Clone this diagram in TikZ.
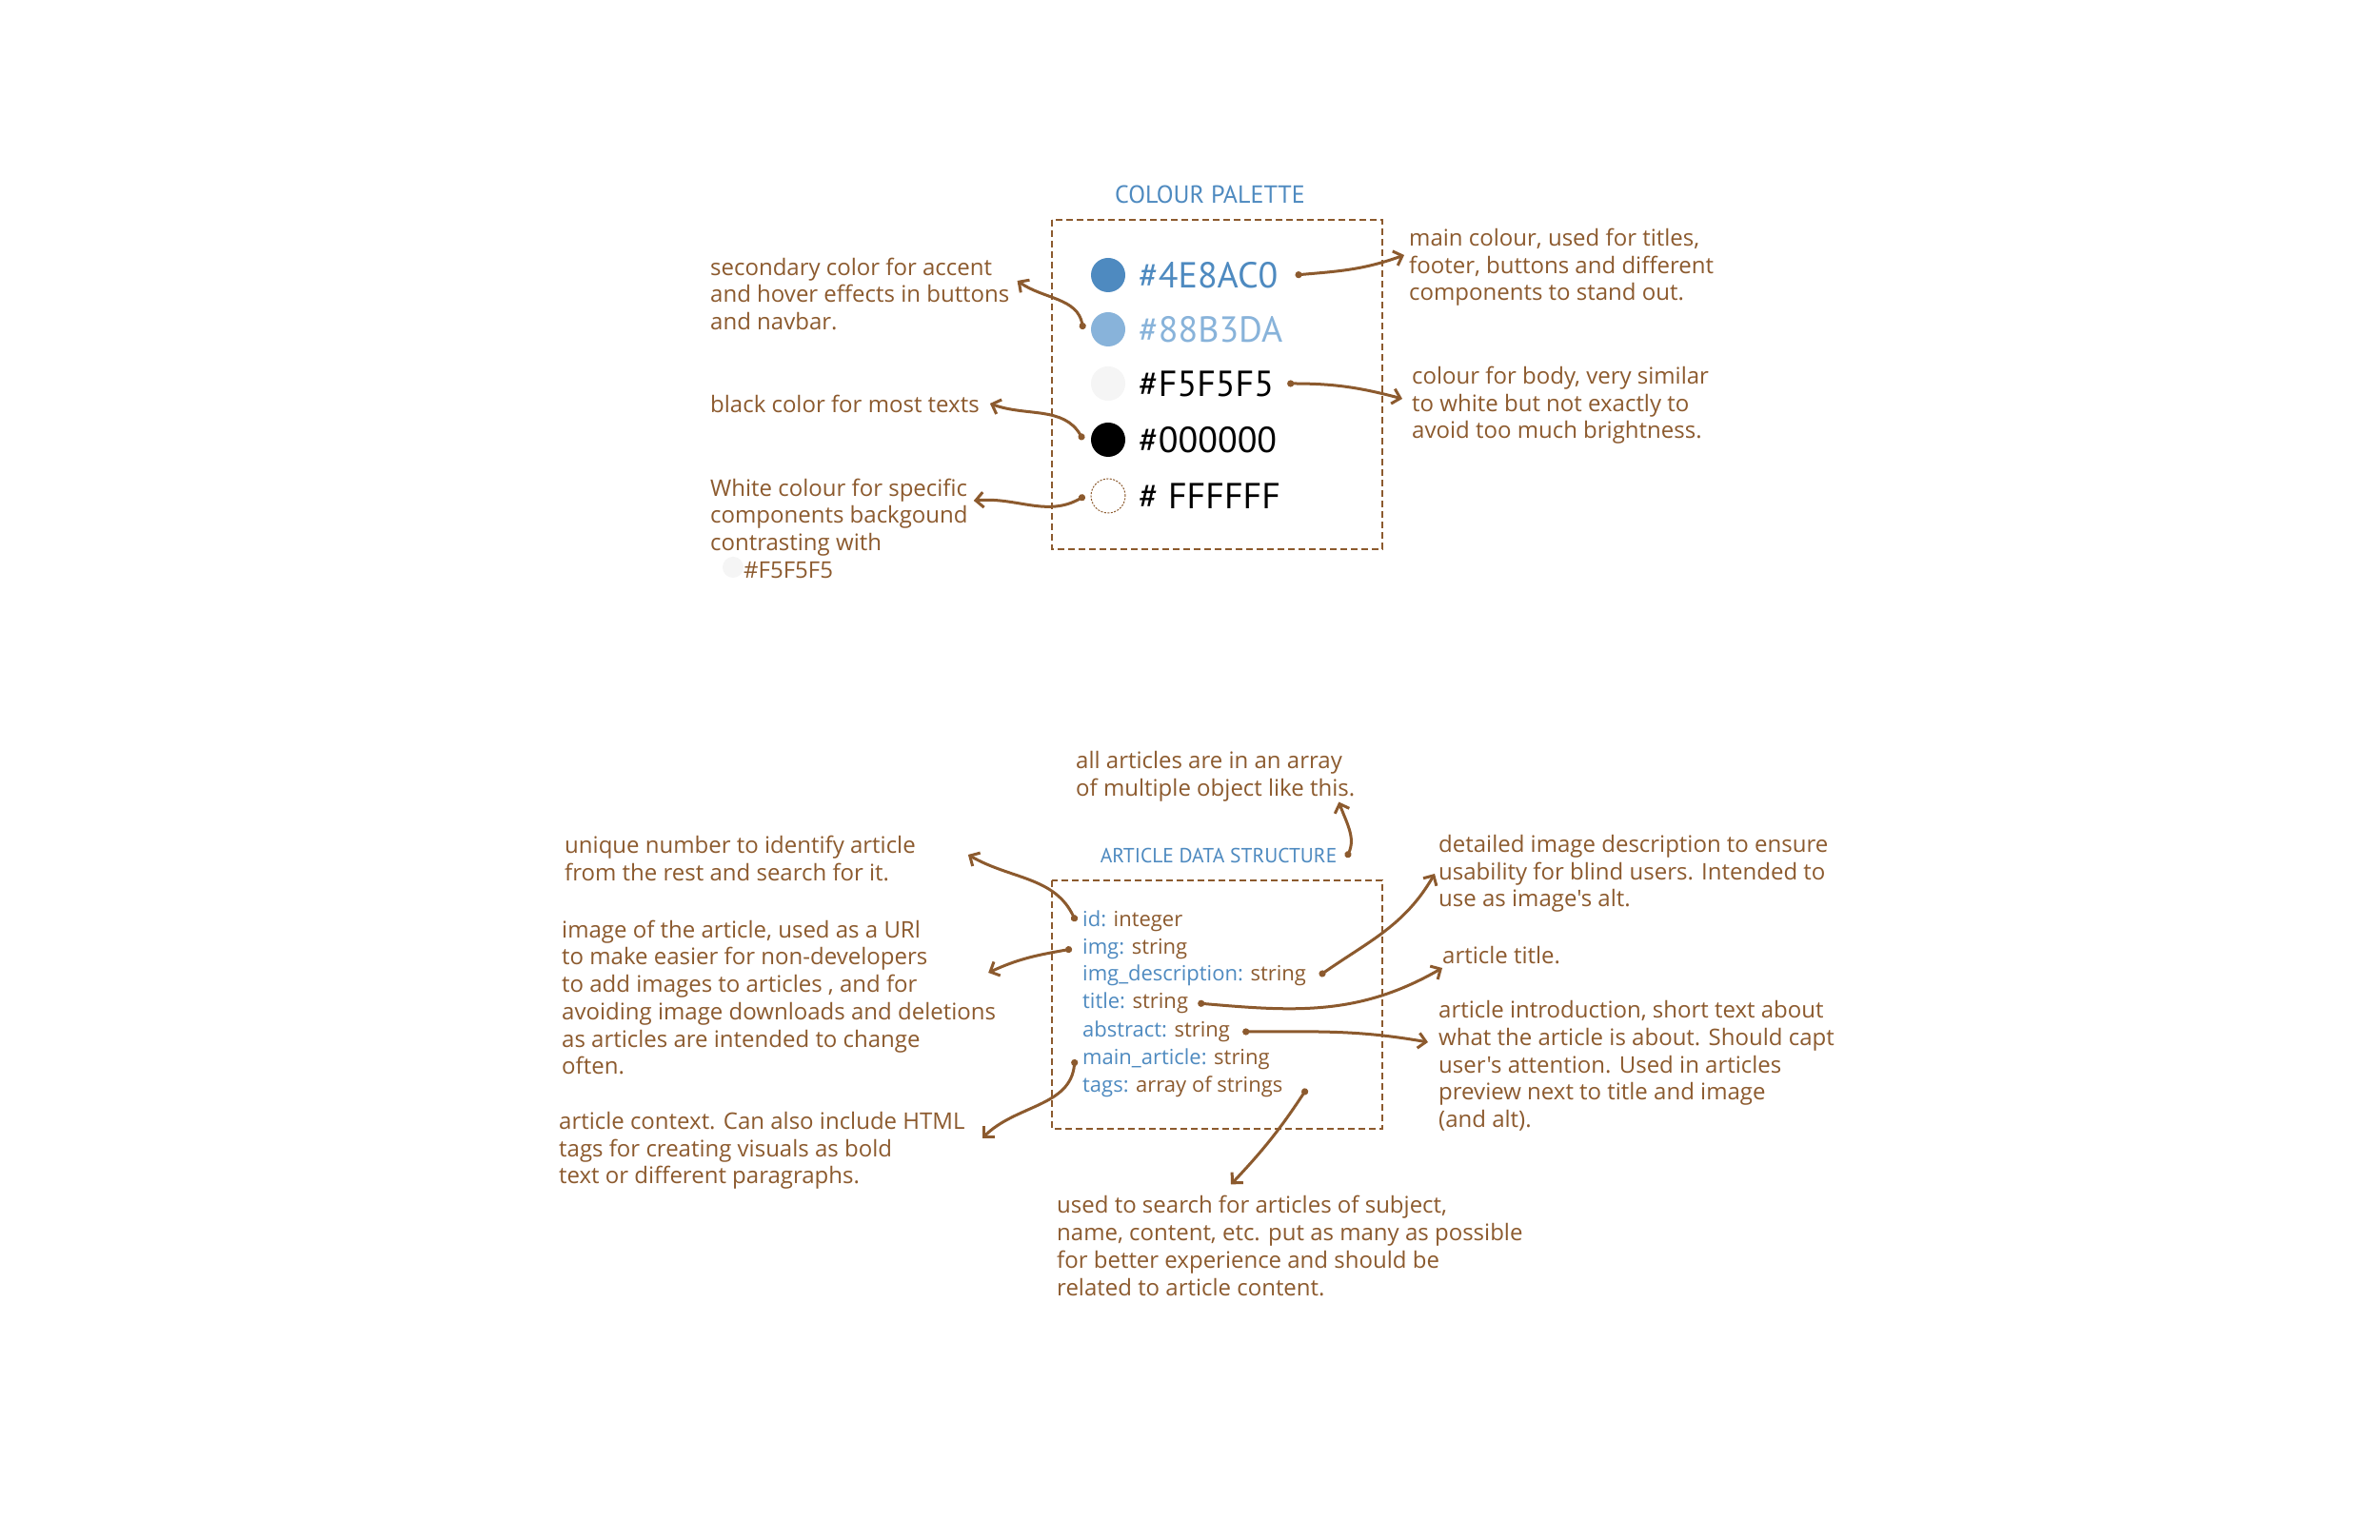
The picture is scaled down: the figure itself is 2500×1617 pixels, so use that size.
\documentclass[tikz,border=0pt]{standalone}
\usepackage{fontspec}
\setmainfont{PT Sans}
\newfontfamily\notefont{Open Sans}
\usetikzlibrary{arrows.meta}
\definecolor{notebrown}{HTML}{8C5A2E}
\definecolor{mainblue}{HTML}{4E8AC0}
\definecolor{lightblue}{HTML}{88B3DA}
\definecolor{offwhite}{HTML}{F5F5F5}
\begin{document}
\begin{tikzpicture}[
        x=1pt, y=1pt,
        note/.style={anchor=west, align=left, inner sep=0pt, text=notebrown, font=\notefont\fontsize{24}{28.7}\selectfont},
        hexcode/.style={anchor=west, inner sep=0pt, font=\fontsize{38}{40}\selectfont},
        swatch/.style={circle, minimum size=36pt, inner sep=0pt},
        field/.style={anchor=west, inner sep=0pt, text height=16pt, text depth=5pt, text=notebrown, font=\notefont\fontsize{22}{24}\selectfont},
        heading/.style={text=mainblue, inner sep=0pt},
        dashbox/.style={draw=notebrown, line width=2.2pt, dash pattern=on 7pt off 4pt},
        pointer/.style={draw=notebrown, line width=3pt, line cap=round, {Circle[length=7pt]}-{Straight Barb[length=8pt,width=16pt]}}
    ]
    \fill[white] (0,0) rectangle (2500,1617);
    \useasboundingbox (0,0) rectangle (2500,1617);

    % colour palette
    \node[heading, font=\fontsize{26}{28}\selectfont] (PT) at (1271,1413) {COLOUR PALETTE};
    \draw[dashbox] (1105,1386) rectangle (1452,1040);
    \node[swatch, fill=mainblue] (C1) at (1164,1328) {};
    \node[swatch, fill=lightblue] (C2) at (1164,1271) {};
    \node[swatch, fill=offwhite] (C3) at (1164,1214) {};
    \node[swatch, fill=black] (C4) at (1164,1155) {};
    \node[swatch, draw=notebrown, line width=1pt, dash pattern=on 2pt off 1.5pt] (C5) at (1164,1096) {};
    \node[hexcode, text=mainblue] (H1) at (1196,1328) {\#4E8AC0};
    \node[hexcode, text=lightblue] (H2) at (1196,1271) {\#88B3DA};
    \node[hexcode] (H3) at (1196,1214) {\#F5F5F5};
    \node[hexcode] (H4) at (1196,1155) {\#000000};
    \node[hexcode] (H5) at (1196,1096) {\# FFFFFF};

    \node[note] (NS) at (746,1308) {secondary color for accent\\and hover effects in buttons\\and navbar.};
    \node[note] (NB) at (746,1193) {black color for most texts};
    \node[swatch, fill=offwhite, minimum size=22pt] (D) at (770,1021) {};
    \node[note] (NW) at (746,1062) {White colour for specific\\components backgound\\contrasting with\\\hspace*{35pt}\#F5F5F5};
    \node[note] (NM) at (1480,1336) {main colour, used for titles,\\footer, buttons and different\\components to stand out.};
    \node[note] (NBo) at (1483,1191) {colour for body, very similar\\to white but not exactly to\\avoid too much brightness.};

    \draw[pointer] ([xshift=18]H1.east) to[out=5,in=200] ([shift={(-5,13)}]NM.west);
    \draw[pointer] ([xshift=-8]C2.west) to[out=100,in=-35] ([shift={(8,14)}]NS.east);
    \draw[pointer] ([xshift=14]H3.east) to[out=0,in=165] ([shift={(-10,7)}]NBo.west);
    \draw[pointer] ([xshift=-8]C4.west) to[out=120,in=-20] ([shift={(11,0)}]NB.east);
    \draw[pointer] ([xshift=-6]C5.west) to[out=-150,in=5] ([shift={(6,29)}]NW.east);

    % article data structure
    \node[heading, font=\fontsize{21.5}{23}\selectfont] (AT) at (1280,718) {ARTICLE DATA STRUCTURE};
    \draw[dashbox] (1105,692) rectangle (1452,431);
    \foreach \fname/\ftype/\fy [count=\i] in {id/integer/649, img/string/620, img\_description/string/592,
            title/string/563, abstract/string/533, main\_article/string/504, tags/array of strings/475}
        \node[field] (F\i) at (1137,\fy) {\textcolor{mainblue}{\fname:} \ftype};

    \node[note] (NA) at (1130,801) {all articles are in an array\\of multiple object like this.};
    \node[note] (NI) at (593,715) {unique number to identify article\\from the rest and search for it.};
    \node[note] (NG) at (590,569) {image of the article, used as a URl\\to make easier for non-developers\\to add images to articles , and for\\avoiding image downloads and deletions\\as articles are intended to change\\often.};
    \node[note] (NC) at (587,408) {article context. Can also include HTML\\tags for creating visuals as bold\\text or different paragraphs.};
    \node[note] (ND) at (1511,699) {detailed image description to ensure\\usability for blind users. Intended to\\use as image's alt.};
    \node[note] (NT) at (1515,613) {article title.};
    \node[note] (NR) at (1511,497) {article introduction, short text about\\what the article is about. Should capt\\user's attention. Used in articles\\preview next to title and image\\(and alt).};
    \node[note] (NTg) at (1110,308) {used to search for articles of subject,\\name, content, etc. put as many as possible\\for better experience and should be\\related to article content.};

    \draw[pointer] ([shift={(10,-2)}]AT.east) to[out=65,in=-70] ([xshift=-17]NA.south east);
    \draw[pointer] ([xshift=-7]F1.west) to[out=115,in=-30] ([shift={(55,4)}]NI.east);
    \draw[pointer] ([xshift=-11]F2.west) to[out=190,in=25] ([shift={(-8,26)}]NG.east);
    \draw[pointer] ([xshift=-8]F6.west) to[out=-95,in=45] ([shift={(18,13)}]NC.east);
    \draw[pointer] ([xshift=14]F3.east) to[out=35,in=-120] ([shift={(-4,0)}]ND.west);
    \draw[pointer] ([xshift=10]F4.east) to[out=-5,in=-150] ([shift={(0,-13)}]NT.west);
    \draw[pointer] ([xshift=13]F5.east) to[out=0,in=170] ([shift={(-11,25)}]NR.west);
    \draw[pointer] ([shift={(25,-2)}]F7.east) to[bend left=5] ([shift={(183,12)}]NTg.north west);
\end{tikzpicture}
\end{document}
